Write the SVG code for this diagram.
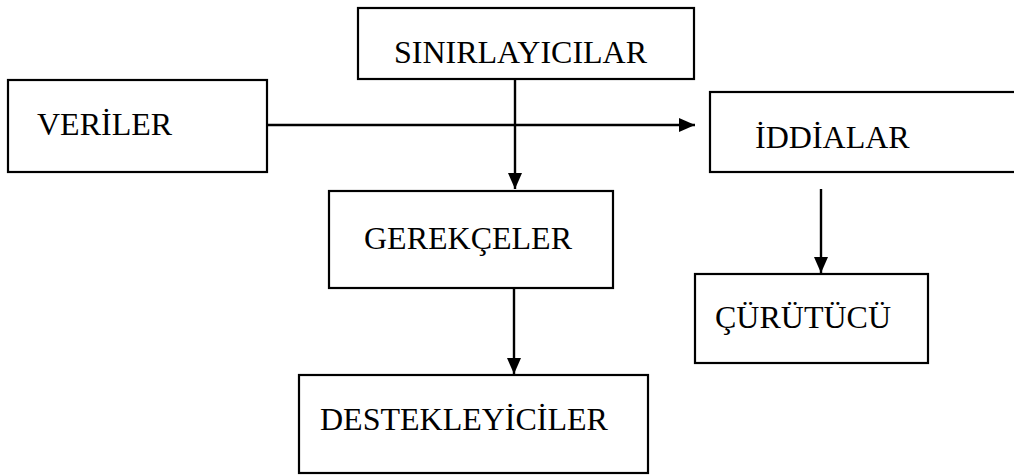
<svg xmlns="http://www.w3.org/2000/svg" width="1014" height="475" viewBox="0 0 1014 475">
<style>
rect.box{fill:#fff;stroke:#000;stroke-width:2.2}
line.c{stroke:#000;stroke-width:2.4}
</style>
<defs>
<marker id="ah" viewBox="0 0 16 14" refX="16" refY="7" markerWidth="16" markerHeight="14" markerUnits="userSpaceOnUse" orient="auto">
<path d="M0,0 L16,7 L0,14 Z" fill="#000"/>
</marker>
</defs>
<rect width="1014" height="475" fill="#fff"/>
<g font-family="Liberation Serif, Tinos, Times New Roman, DejaVu Serif, serif" font-size="32" fill="#000">
<g id="sinirlayicilar"><rect class="box" x="358" y="8" width="336" height="71"/><text x="394" y="63">SINIRLAYICILAR</text></g>
<g id="veriler"><rect class="box" x="8" y="80" width="259" height="92"/><text x="37" y="135">VERİLER</text></g>
<g id="iddialar"><rect class="box" x="710" y="92" width="320" height="80"/><text x="755" y="148">İDDİALAR</text></g>
<g id="gerekceler"><rect class="box" x="329" y="191" width="284" height="97"/><text x="364" y="249">GEREKÇELER</text></g>
<g id="curutucu"><rect class="box" x="695" y="274" width="233" height="89"/><text x="715" y="328">ÇÜRÜTÜCÜ</text></g>
<g id="destekleyiciler"><rect class="box" x="299" y="375" width="349" height="98"/><text x="320" y="430">DESTEKLEYİCİLER</text></g>
</g>
<g id="connectors">
<line class="c" x1="267" y1="125" x2="695" y2="125" marker-end="url(#ah)"/>
<line class="c" x1="515" y1="79" x2="515" y2="189" marker-end="url(#ah)"/>
<line class="c" x1="514" y1="288" x2="514" y2="374" marker-end="url(#ah)"/>
<line class="c" x1="821" y1="189" x2="821" y2="273" marker-end="url(#ah)"/>
</g>
</svg>
